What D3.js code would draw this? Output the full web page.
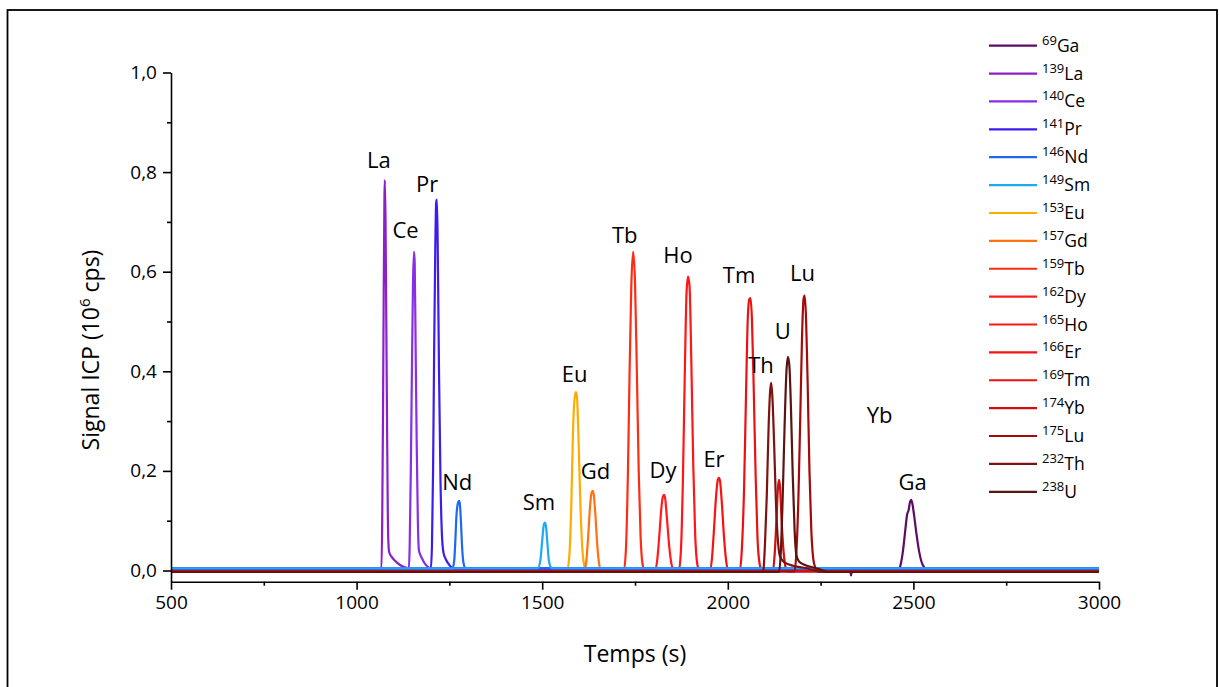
<!DOCTYPE html>
<html>
<head>
<meta charset="utf-8">
<script src="https://cdn.jsdelivr.net/npm/d3@7/dist/d3.min.js"></script>
<style>
  html, body { margin: 0; padding: 0; background: #fff; }
  svg { display: block; font-family: "Open Sans", "Noto Sans", sans-serif; }
</style>
</head>
<body>
<svg id="chart" width="1219" height="687"></svg>
<script>
// ---------- DATA (time in s, signal in 10^6 cps) ----------
const elements = ["Ga","La","Ce","Pr","Nd","Sm","Eu","Gd","Tb","Dy","Ho","Er","Tm","Yb","Lu","Th","U"];
const masses   = ["69","139","140","141","146","149","153","157","159","162","165","166","169","174","175","232","238"];
const colors   = ["#5e0b66","#8c1fc8","#8a2de6","#3c1cf0","#1f68f2","#1ea8f5","#ffac00","#ff7212","#ff2c14","#ff1c1c","#ff1616","#f81212","#ec1010","#d20e0e","#a50a0a","#7e1212","#5a1414"];

const dataGa = [[500,-0.002],[2330,-0.002],[2332,-0.01],[2334,-0.002],[2458,-0.002],[2465,0.01],[2472,0.04],[2478,0.08],[2483,0.112],[2487,0.121],[2491,0.138],[2494,0.142],[2497,0.135],[2502,0.11],[2508,0.075],[2515,0.04],[2522,0.017],[2530,0.005],[2538,-0.002],[3000,-0.002]];
const dataLa = [[500,0.004],[1067,0.004],[1069,0.1],[1071,0.3],[1073,0.55],[1075,0.75],[1076,0.784],[1078,0.7],[1080,0.5],[1082,0.3],[1084,0.12],[1086,0.05],[1088,0.036],[1095,0.027],[1103,0.02],[1117,0.011],[1136,0.005],[1150,0.004],[3000,0.004]];
const dataCe = [[500,0.004],[1141,0.004],[1143,0.05],[1146,0.2],[1149,0.4],[1152,0.58],[1154.5,0.64],[1156.5,0.62],[1159,0.45],[1162,0.25],[1165,0.1],[1168,0.04],[1175,0.026],[1183,0.015],[1191,0.008],[1200,0.004],[3000,0.004]];
const dataPr = [[500,0.004],[1200,0.004],[1203,0.05],[1206,0.2],[1209,0.45],[1212,0.65],[1214.5,0.74],[1216.5,0.745],[1219,0.62],[1222,0.4],[1226,0.18],[1230,0.07],[1234,0.036],[1240,0.023],[1248,0.013],[1256,0.006],[1265,0.004],[3000,0.004]];
const dataNd = [[500,0.004],[1258,0.004],[1263,0.02],[1266,0.06],[1269,0.11],[1272,0.132],[1274,0.138],[1276,0.14],[1278,0.135],[1281,0.1],[1284,0.05],[1288,0.015],[1293,0.005],[3000,0.004]];
const dataSm = [[500,0.0045],[1488,0.0045],[1495,0.02],[1500,0.06],[1504,0.09],[1507,0.096],[1510,0.09],[1514,0.055],[1518,0.02],[1524,0.006],[1530,0.0045],[3000,0.0045]];
const dataEu = [[500,-0.001],[1567,-0.001],[1574,0.04],[1579,0.15],[1583,0.28],[1588,0.35],[1591,0.358],[1594,0.345],[1598,0.26],[1603,0.13],[1608,0.045],[1615,0.005],[1620,-0.001],[3000,-0.001]];
const dataGd = [[500,-0.001],[1613,-0.001],[1619,0.02],[1624,0.07],[1629,0.13],[1633,0.156],[1636,0.16],[1639,0.152],[1643,0.115],[1648,0.055],[1653,0.015],[1659,-0.001],[3000,-0.001]];
const dataTb = [[500,0],[1720,0],[1726,0.05],[1731,0.2],[1735,0.38],[1740,0.57],[1745,0.64],[1750,0.58],[1755,0.4],[1760,0.2],[1765,0.07],[1771,0.01],[1777,0],[3000,0]];
const dataDy = [[500,0],[1803,0],[1810,0.022],[1816,0.075],[1821,0.125],[1825,0.148],[1828,0.152],[1831,0.146],[1836,0.105],[1842,0.05],[1848,0.014],[1855,0],[3000,0]];
const dataHo = [[500,-0.001],[1868,-0.001],[1874,0.045],[1879,0.18],[1884,0.39],[1889,0.56],[1893,0.59],[1897,0.57],[1902,0.41],[1907,0.21],[1912,0.075],[1918,0.012],[1924,-0.001],[3000,-0.001]];
const dataEr = [[500,-0.001],[1951,-0.001],[1957,0.022],[1963,0.085],[1968,0.145],[1973,0.182],[1976,0.186],[1979,0.18],[1984,0.135],[1990,0.065],[1996,0.017],[2002,-0.001],[3000,-0.001]];
const dataTm = [[500,-0.001],[2032,-0.001],[2038,0.045],[2044,0.17],[2049,0.35],[2054,0.51],[2058,0.545],[2061,0.547],[2065,0.505],[2070,0.36],[2075,0.19],[2080,0.065],[2086,0.012],[2092,-0.001],[3000,-0.001]];
const dataYb = [[500,-0.002],[2121,-0.002],[2126,0.03],[2131,0.1],[2135,0.165],[2138,0.182],[2141,0.165],[2145,0.1],[2150,0.04],[2156,0.005],[2160,-0.002],[3000,-0.002]];
const dataLu = [[500,-0.002],[2180,-0.002],[2185,0.04],[2190,0.14],[2195,0.3],[2200,0.47],[2204,0.545],[2207,0.552],[2210,0.52],[2215,0.38],[2220,0.2],[2225,0.08],[2230,0.025],[2236,0.005],[2242,-0.002],[3000,-0.002]];
const dataTh = [[500,-0.003],[2095,-0.003],[2100,0.05],[2105,0.15],[2110,0.29],[2114,0.36],[2117,0.377],[2120,0.35],[2125,0.25],[2130,0.13],[2135,0.06],[2140,0.03],[2150,0.018],[2165,0.012],[2185,0.008],[2210,0.005],[2240,-0.001],[2260,-0.003],[3000,-0.003]];
const dataU  = [[500,-0.003],[2138,-0.003],[2143,0.04],[2148,0.15],[2153,0.29],[2158,0.4],[2162,0.429],[2166,0.41],[2170,0.33],[2175,0.19],[2180,0.08],[2185,0.03],[2192,0.018],[2205,0.012],[2225,0.007],[2250,0.002],[2270,-0.003],[3000,-0.003]];

// peak annotation anchors (time, signal)
const labelTimes  = [2497.6,1060,1132,1189.7,1271.3,1491.4,1587.6,1643.6,1722.2,1825.4,1865.8,1962.8,2030.2,2408.7,2201.2,2089.4,2148.2];
const labelValues = [0.162,0.808,0.667,0.761,0.1616,0.1215,0.379,0.183,0.658,0.185,0.618,0.207,0.577,0.296,0.582,0.396,0.465];

const xTicks = [500,1000,1500,2000,2500,3000];
const xMinorTicks = [750,1250,1750,2250,2750];
const yTicks = [0,0.2,0.4,0.6,0.8,1.0];
const yTickLabels = ["0,0","0,2","0,4","0,6","0,8","1,0"];
const yMinorTicks = [0.1,0.3,0.5,0.7,0.9];

const seriesData = [dataGa,dataLa,dataCe,dataPr,dataNd,dataSm,dataEu,dataGd,dataTb,dataDy,dataHo,dataEr,dataTm,dataYb,dataLu,dataTh,dataU];
// drawing order: Eu/Gd and reds below, then blues/purples, Sm on top of baseline, darkest last
const drawOrder = [0,6,7,8,9,10,11,12,13,1,2,3,4,5,14,15,16];

// ---------- DRAW ----------
const svg = d3.select("#chart");
const x = d3.scaleLinear().domain([500,3000]).range([171,1099]);
const y = d3.scaleLinear().domain([-0.0225,1.0]).range([581.7,72.5]);

// outer frame
svg.append("rect").attr("x",7.5).attr("y",10).attr("width",1209.5).attr("height",720)
  .attr("fill","none").attr("stroke","#000").attr("stroke-width",1.8);

// lines
const line = d3.line().x(d=>x(d[0])).y(d=>y(d[1])).curve(d3.curveMonotoneX);
svg.append("g").selectAll("path").data(drawOrder).join("path")
  .attr("d", i=>line(seriesData[i])).attr("fill","none")
  .attr("stroke",i=>colors[i]).attr("stroke-width",2.2).attr("stroke-linejoin","round");

// axes
const axisY0 = 581.7;
const gx = svg.append("g").attr("transform",`translate(0,${axisY0})`)
  .call(d3.axisBottom(x).tickValues(xTicks).tickSize(8).tickSizeOuter(0).tickPadding(6).tickFormat(d3.format("d")));
const gxm = svg.append("g").attr("transform",`translate(0,${axisY0})`)
  .call(d3.axisBottom(x).tickValues(xMinorTicks).tickSize(4).tickSizeOuter(0).tickFormat(""));
const gy = svg.append("g").attr("transform","translate(171,0)")
  .call(d3.axisLeft(y).tickValues(yTicks).tickSize(8).tickSizeOuter(0).tickPadding(6)
    .tickFormat((d,i)=>yTickLabels[i]));
const gym = svg.append("g").attr("transform","translate(171,0)")
  .call(d3.axisLeft(y).tickValues(yMinorTicks).tickSize(4).tickSizeOuter(0).tickFormat(""));
gxm.select(".domain").remove();
gym.select(".domain").remove();
[gx,gxm,gy,gym].forEach(g=>{
  g.selectAll("path,line").attr("stroke","#000").attr("stroke-width",1.6);
  g.selectAll("text").attr("font-family","'Open Sans', sans-serif").attr("font-size",19).attr("fill","#000");
});

// axis titles
svg.append("text").attr("x",(x(500)+x(3000))/2).attr("y",662).attr("text-anchor","middle")
  .attr("font-size",23).text("Temps (s)");
const yt = svg.append("text").attr("transform","translate(99,350) rotate(-90)").attr("text-anchor","middle")
  .attr("font-size",23);
yt.append("tspan").text("Signal ICP (10");
yt.append("tspan").attr("font-size",15).attr("dy",-9).text("6");
yt.append("tspan").attr("dy",9).text(" cps)");

// peak labels
svg.append("g").selectAll("text").data(elements).join("text")
  .attr("x",(d,i)=>x(labelTimes[i])).attr("y",(d,i)=>y(labelValues[i]))
  .attr("text-anchor","middle").attr("font-size",22).attr("fill","#000").text(d=>d);

// legend
const lg = svg.append("g");
elements.forEach((el,i)=>{
  const yy = 45.7 + i*27.88;
  lg.append("line").attr("x1",989).attr("x2",1037).attr("y1",yy).attr("y2",yy)
    .attr("stroke",colors[i]).attr("stroke-width",2.2);
  const t = lg.append("text").attr("x",1042).attr("y",yy+6).attr("fill","#000");
  t.append("tspan").attr("font-size",13).attr("dy",-7).text(masses[i]);
  t.append("tspan").attr("font-size",17.5).attr("dy",7).text(el);
});
</script>
</body>
</html>
